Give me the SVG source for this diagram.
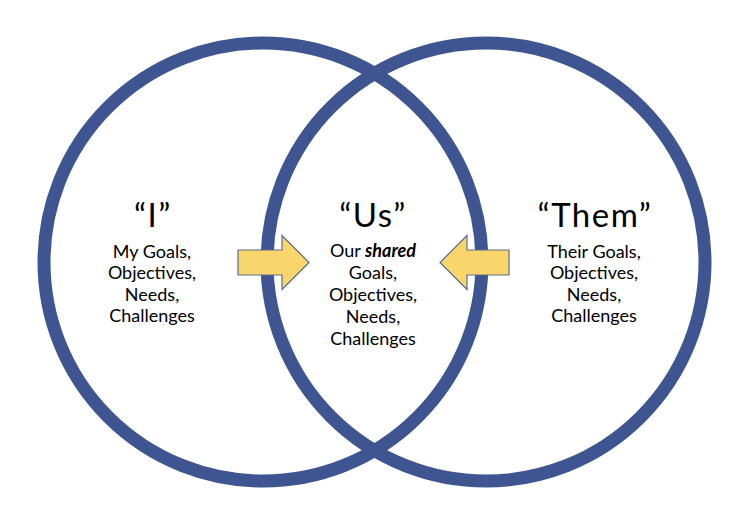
<svg xmlns="http://www.w3.org/2000/svg" width="750" height="525" viewBox="0 0 750 525">
<style>
.ring{fill:none;stroke:#3F5591;stroke-width:13}
.arrow{fill:#F8D66C;stroke:#5C6C90;stroke-width:1.2;stroke-linejoin:miter}
.title{font-family:Lato,"Open Sans",sans-serif;font-size:33px;letter-spacing:1.5px;fill:#000;text-anchor:middle}
.body{font-family:Lato,"Open Sans",sans-serif;font-size:18px;fill:#000;text-anchor:middle}
.em{font-weight:bold;font-style:italic}
</style>
<rect width="750" height="525" fill="#fff"/>
<g id="circle-i"><circle class="ring" cx="263" cy="262" r="219"/></g>
<g id="circle-them"><circle class="ring" cx="486" cy="262" r="219"/></g>
<g id="connectors">
<polygon class="arrow" points="238,250 282,250 282,235.5 309,262.5 282,289.5 282,275 238,275"/>
<polygon class="arrow" points="509,250 467,250 467,235.5 440,262.5 467,289.5 467,275 509,275"/>
</g>
<g id="node-i">
<text class="title" x="153" y="227">“I”</text>
<text class="body" x="152" y="257.5">My Goals,</text>
<text class="body" x="152" y="279">Objectives,</text>
<text class="body" x="152" y="300.5">Needs,</text>
<text class="body" x="152" y="322">Challenges</text>
</g>
<g id="node-us">
<text class="title" x="373" y="227">“Us”</text>
<text class="body" x="373" y="257">Our <tspan class="em">shared</tspan></text>
<text class="body" x="373" y="279">Goals,</text>
<text class="body" x="373" y="301">Objectives,</text>
<text class="body" x="373" y="323">Needs,</text>
<text class="body" x="373" y="345">Challenges</text>
</g>
<g id="node-them">
<text class="title" x="595" y="227">“Them”</text>
<text class="body" x="594" y="257.5">Their Goals,</text>
<text class="body" x="594" y="279">Objectives,</text>
<text class="body" x="594" y="300.5">Needs,</text>
<text class="body" x="594" y="322">Challenges</text>
</g>
</svg>
